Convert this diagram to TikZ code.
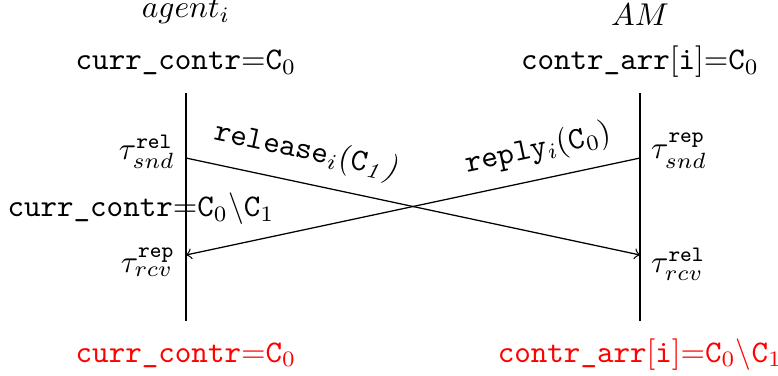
\documentclass[tikz,border=0pt]{standalone}
\usepackage{tikz}
\usetikzlibrary{calc}

\begin{document}
\begin{tikzpicture}
            \useasboundingbox (0,0) rectangle (8.68,-4.184);
            \coordinate (At) at (2.075,-1.038);
            \coordinate (Ab) at (2.075,-3.581);
            \coordinate (Mt) at (7.141,-1.038);
            \coordinate (Mb) at (7.141,-3.581);
            \coordinate (Asnd) at (2.075,-1.763);
            \coordinate (Arcv) at (2.075,-2.845);
            \coordinate (Msnd) at (7.141,-1.763);
            \coordinate (Mrcv) at (7.141,-2.845);

            % processes
            \node[anchor=base] (agent) at (2.075,-0.20) {$agent_i$};
            \node[anchor=base] (am) at (7.141,-0.28) {$AM$};
            \node[anchor=base] (agentinit) at (2.075,-0.78) {\texttt{curr\_contr}$=$\texttt{C}$_0$};
            \node[anchor=base] (aminit) at (7.141,-0.78) {\texttt{contr\_arr}$[$\texttt{i}$]$$=$\texttt{C}$_0$};

            \draw (At)-- (Ab);
            \draw (Mt)-- (Mb);
            \draw[->] (Asnd)-- node[pos=.25,sloped,above=1.5pt] {\texttt{release}$_i$(\texttt{C}$_{\mathit{1}}$\textit{)}} (Mrcv);
            \draw[->] (Msnd)-- node[pos=.21,sloped,above=1pt] {\texttt{reply}$_i$(\texttt{C}$_0$)} (Arcv);

            \node[anchor=east] (tsndA) at ($(Asnd)+(0,0.07)$) {$\tau^{\mathtt{rel}}_{snd}$};
            \node[anchor=east] (trcvA) at ($(Arcv)+(0,-0.08)$) {$\tau^{\mathtt{rep}}_{rcv}$};
            \node[anchor=west] (tsndM) at ($(Msnd)+(0,0.08)$) {$\tau^{\mathtt{rep}}_{snd}$};
            \node[anchor=west] (trcvM) at ($(Mrcv)+(0,-0.1)$) {$\tau^{\mathtt{rel}}_{rcv}$};
            \node[anchor=base] (agentmid) at (1.573,-2.421) {\texttt{curr\_contr}$=$\texttt{C}$_0\backslash$\texttt{C}$_1$};

            % final values
            \node[anchor=base,red] (agentend) at (2.075,-4.039) {\texttt{curr\_contr}$=$\texttt{C}$_0$};
            \node[anchor=base,red] (amend) at (7.141,-4.039) {\texttt{contr\_arr}$[$\texttt{i}$]$$=$\texttt{C}$_0\backslash$\texttt{C}$_1$};
        \end{tikzpicture}
\end{document}
